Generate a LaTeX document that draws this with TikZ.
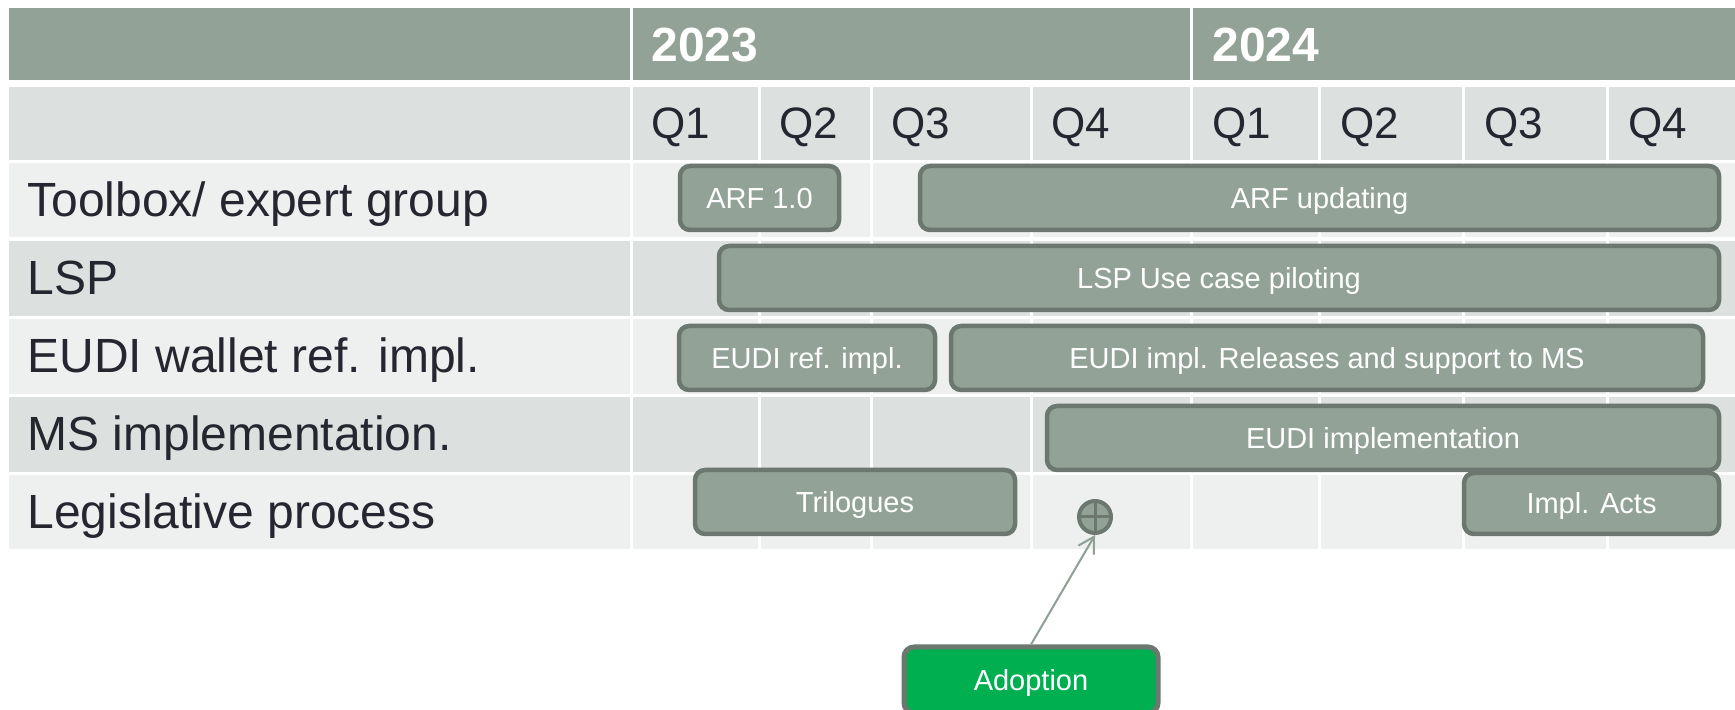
\documentclass[tikz,border=0pt]{standalone}
\usepackage{fontspec}
\setmainfont{Liberation Sans}
\usetikzlibrary{arrows.meta}
\definecolor{hdr}{HTML}{92A297}
\definecolor{rowA}{HTML}{EEF0EF}
\definecolor{rowB}{HTML}{DCE0DE}
\definecolor{barline}{HTML}{6B776F}
\definecolor{txt}{HTML}{262630}
\definecolor{arrowc}{HTML}{8E9F94}
\definecolor{adoptgreen}{HTML}{00B050}
\begin{document}
\begin{tikzpicture}[x=0.5pt,y=-0.5pt,
  bar/.style={draw=barline, fill=hdr, line width=2.25pt, rounded corners=5pt, inner sep=0pt,
    minimum height=32pt, text=white, font=\fontsize{14.5}{16}\selectfont, text height=10.4pt, text depth=0pt},
  rowlabel/.style={anchor=base west, inner sep=0pt, text=txt, font=\fontsize{24}{28}\selectfont},
  qlabel/.style={anchor=base west, inner sep=0pt, text=txt, font=\fontsize{22}{26}\selectfont},
  yearlabel/.style={anchor=base west, inner sep=0pt, text=white, font=\bfseries\fontsize{24}{28}\selectfont},
  divider/.style={white, line width=1.5pt}
]
\clip (0,0) rectangle (1735,710);
\fill[white] (0,0) rectangle (1735,710);
% header row
\fill[hdr] (9,8) rectangle (1735,80);
\draw[divider] (631,8) -- (631,80);
\draw[divider] (1191,8) -- (1191,80);
% quarter row and data rows
\fill[rowB] (9,87) rectangle (1735,160);
\fill[rowA] (9,163) rectangle (1735,237);
\fill[rowB] (9,241) rectangle (1735,316);
\fill[rowA] (9,319) rectangle (1735,394);
\fill[rowB] (9,397) rectangle (1735,472);
\fill[rowA] (9,475) rectangle (1735,549);
\foreach \x in {631,759,871,1031,1191,1319,1463,1607}
  \draw[divider] (\x,87) -- (\x,549);
% year labels
\node[yearlabel] (y23) at (651,62) {2023};
\node[yearlabel] (y24) at (1212,62) {2024};
% quarter labels
\node[qlabel] (q1) at (651,139) {Q1};
\node[qlabel] (q2) at (779,139) {Q2};
\node[qlabel] (q3) at (891,139) {Q3};
\node[qlabel] (q4) at (1051,139) {Q4};
\node[qlabel] (q5) at (1212,139) {Q1};
\node[qlabel] (q6) at (1340,139) {Q2};
\node[qlabel] (q7) at (1484,139) {Q3};
\node[qlabel] (q8) at (1628,139) {Q4};
% row labels
\node[rowlabel] (l1) at (27,217) {Toolbox/ expert group};
\node[rowlabel] (l2) at (27,295) {LSP};
\node[rowlabel] (l3) at (27,373) {EUDI wallet ref. impl.};
\node[rowlabel] (l4) at (27,451) {MS implementation.};
\node[rowlabel] (l5) at (27,529) {Legislative process};
% bars
\node[bar, minimum width=79.5pt] (arf1) at (759.5,198) {ARF 1.0};
\node[bar, minimum width=399.5pt] (arfup) at (1319.5,198) {ARF updating};
\node[bar, minimum width=500pt] (lsp) at (1219,278) {LSP Use case piloting};
\node[bar, minimum width=128pt] (eudiref) at (807,358) {EUDI ref. impl.};
\node[bar, minimum width=376pt] (eudirel) at (1327,358) {EUDI impl. Releases and support to MS};
\node[bar, minimum width=336pt] (eudiimpl) at (1383,438) {EUDI implementation};
\node[bar, minimum width=160pt] (trilog) at (855,502) {Trilogues};
\node[bar, minimum width=127.5pt, minimum height=30.5pt] (implacts) at (1591.5,503.5) {Impl. Acts};
% adoption marker
\node[circle, draw=barline, fill=hdr, line width=2pt, minimum size=16pt, inner sep=0pt,
  path picture={\draw[barline, line width=1.5pt]
    (path picture bounding box.north) -- (path picture bounding box.south)
    (path picture bounding box.west) -- (path picture bounding box.east);}] (marker) at (1095,517) {};
\node[draw=barline, fill=adoptgreen, line width=2.5pt, rounded corners=5pt, inner sep=0pt,
  minimum width=127pt, minimum height=33pt,
  text=white, font=\fontsize{14.5}{16}\selectfont, text height=10.4pt, text depth=0pt] (adoption) at (1031,680) {Adoption};
\draw[arrowc, line width=1pt, -{Straight Barb[length=7.8pt, width=9pt]}] (adoption.north) -- (marker.south);
\end{tikzpicture}
\end{document}
